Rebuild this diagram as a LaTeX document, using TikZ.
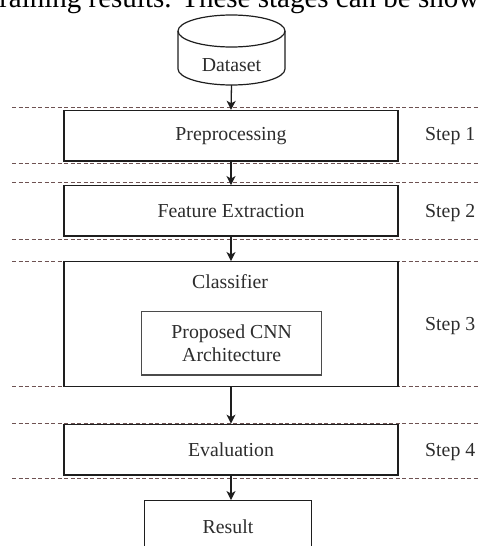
\documentclass[tikz,border=0pt]{standalone}
\usepackage{fontspec}
\setmainfont{Liberation Serif}
\usetikzlibrary{arrows.meta}

\definecolor{inkline}{RGB}{30,30,30}
\definecolor{inktext}{RGB}{45,45,45}
\definecolor{bandline}{RGB}{110,82,82}

\tikzset{
  stagebox/.style={draw=inkline, line width=1.3pt, fill=white, inner sep=0pt,
    minimum width=334pt, minimum height=50.5pt,
    font=\fontsize{19.8pt}{23.7pt}\selectfont, text=inktext},
  subbox/.style={draw=inkline!80, line width=1.3pt, fill=white, inner sep=0pt,
    align=center, font=\fontsize{19.8pt}{23.7pt}\selectfont, text=inktext},
  plainlabel/.style={inner sep=0pt, font=\fontsize{19.8pt}{23.7pt}\selectfont, text=inktext},
  steplabel/.style={plainlabel, anchor=west},
  flow/.style={draw=inkline, line width=1.3pt, -{Stealth[length=9pt,width=9pt,inset=2.5pt]}},
  band/.style={draw=bandline, line width=1pt, dash pattern=on 4pt off 2.5pt},
  drum/.style={draw=inkline, line width=1.2pt}
}

\begin{document}
\begin{tikzpicture}[x=1pt, y=-1pt]
  \useasboundingbox (0,0) rectangle (478,546);
  \clip (0,0) rectangle (478,546);

  % running text of the page above the figure
  \node[anchor=base west, inner sep=0pt, font=\fontsize{29pt}{34pt}\selectfont, text=black]
    (caption) at (-9,7) {training results. These stages can be shown};

  % dashed step bands
  \foreach \yy in {107.5,163.5,182.5,239,261.7,386.7,423.3,478.3}
    \draw[band] (12,\yy) -- (478,\yy);

  % dataset drum
  \node[inner sep=0pt, minimum width=107pt, minimum height=70pt] (data) at (231.5,50) {};
  \draw[drum, fill=white] (178,31) -- (178,69)
    arc[start angle=180, end angle=360, x radius=53.5pt, y radius=16pt]
    -- (285,31);
  \draw[drum] (231.5,31) ellipse [x radius=53.5pt, y radius=16pt];
  \node[plainlabel] (datatxt) at (231.5,65) {Dataset};

  % processing stages
  \node[stagebox] (prep) at (231,135.75) {Preprocessing};
  \node[stagebox, minimum height=50.3pt] (feat) at (231,210.85) {Feature Extraction};
  \node[stagebox, minimum height=125pt] (clf) at (231,324.2) {};
  \node[plainlabel] (clftxt) at (230,281.5) {Classifier};
  \node[subbox, minimum width=180pt, minimum height=63.3pt] (cnn) at (231.7,343.35)
    {Proposed CNN\\Architecture};
  \node[stagebox, minimum height=50.7pt] (eval) at (231,449.65) {Evaluation};
  \node[stagebox, minimum width=167.4pt, minimum height=52pt] (res) at (228,526.7) {Result};

  % step labels
  \node[steplabel] (s1) at (425,136) {Step 1};
  \node[steplabel] (s2) at (425,212.7) {Step 2};
  \node[steplabel] (s3) at (425,326) {Step 3};
  \node[steplabel] (s4) at (425,451.7) {Step 4};

  % flow arrows
  \draw[flow] (data.south) -- (prep.north);
  \draw[flow] (prep.south) -- (feat.north);
  \draw[flow] (feat.south) -- (clf.north);
  \draw[flow] (clf.south) -- (eval.north);
  \draw[flow] (eval.south) -- (eval.south |- res.north);
\end{tikzpicture}
\end{document}
